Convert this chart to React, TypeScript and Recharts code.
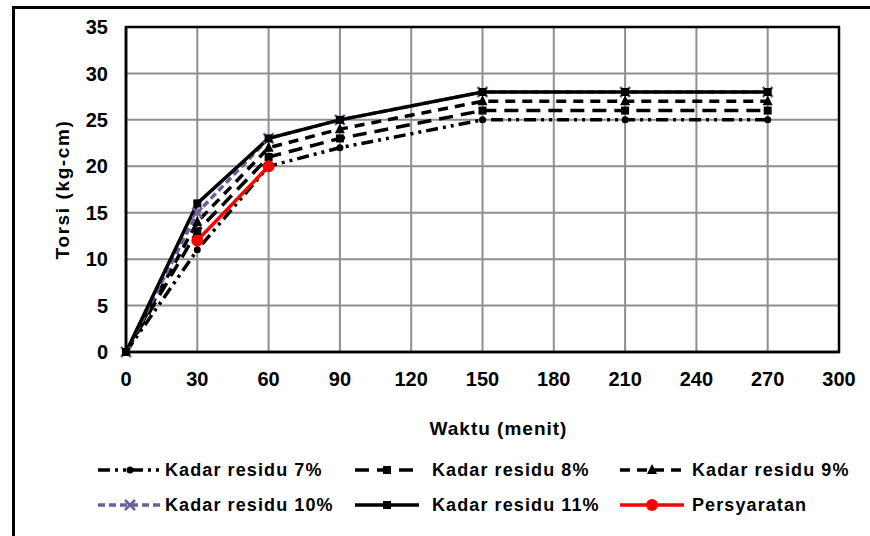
import React from 'react';
import {
  LineChart,
  Line,
  XAxis,
  YAxis,
  CartesianGrid,
  Legend,
  Label,
  ReferenceArea,
} from 'recharts';

// waktu (menit)
const time = [0, 30, 60, 90, 150, 210, 270];
// torsi (kg-cm) per kadar residu
const k7 = [0, 11, 20, 22, 25, 25, 25];
const k8 = [0, 13, 21, 23, 26, 26, 26];
const k9 = [0, 14, 22, 24, 27, 27, 27];
const k10 = [0, 15, 23, 25, 28, 28, 28];
const k11 = [0, 16, 23, 25, 28, 28, 28];
const syarat = [null, 12, 20, null, null, null, null];

const xTicks = [0, 30, 60, 90, 120, 150, 180, 210, 240, 270, 300];
const yTicks = [0, 5, 10, 15, 20, 25, 30, 35];

const names = [
  'Kadar residu 7%',
  'Kadar residu 8%',
  'Kadar residu 9%',
  'Kadar residu 10%',
  'Kadar residu 11%',
  'Persyaratan',
];

const rows = time.map((t, i) => ({
  t,
  k7: k7[i],
  k8: k8[i],
  k9: k9[i],
  k10: k10[i],
  k11: k11[i],
  syarat: syarat[i],
}));

const FONT = '"Liberation Sans", Arial, sans-serif';
const PURPLE = '#6e5e99';

type Shape = 'circle' | 'square' | 'triangle' | 'cross' | 'bigcircle';

const series = [
  { key: 'k7', color: '#000', dash: '12 5 3 5 3 5', shape: 'circle' as Shape },
  { key: 'k8', color: '#000', dash: '14 8', shape: 'square' as Shape },
  { key: 'k9', color: '#000', dash: '10 7', shape: 'triangle' as Shape },
  { key: 'k10', color: PURPLE, dash: '7 4', shape: 'cross' as Shape },
  { key: 'k11', color: '#000', dash: undefined, shape: 'square' as Shape },
  { key: 'syarat', color: '#ff0000', dash: undefined, shape: 'bigcircle' as Shape },
];

function marker(shape: Shape, color: string, cx: number, cy: number) {
  switch (shape) {
    case 'circle':
      return <circle cx={cx} cy={cy} r={3.5} fill={color} />;
    case 'square':
      return <rect x={cx - 4} y={cy - 4} width={8} height={8} fill={color} />;
    case 'triangle':
      return (
        <polygon
          points={`${cx},${cy - 6} ${cx + 5},${cy + 4} ${cx - 5},${cy + 4}`}
          fill={color}
        />
      );
    case 'cross':
      return (
        <g stroke={color} strokeWidth={2.5}>
          <line x1={cx - 5} y1={cy - 5} x2={cx + 5} y2={cy + 5} />
          <line x1={cx - 5} y1={cy + 5} x2={cx + 5} y2={cy - 5} />
        </g>
      );
    default:
      return <circle cx={cx} cy={cy} r={6} fill={color} />;
  }
}

const makeDot = (shape: Shape, color: string) => (props: any) => {
  const { cx, cy, value, index } = props;
  if (cx == null || cy == null || value == null) return <g key={index} />;
  return <g key={index}>{marker(shape, color, cx, cy)}</g>;
};

const legendCols = [98, 355, 620];
const legendText = [165, 432, 692];
const legendRows = [4, 39];

function LegendBox() {
  return (
    <div style={{ position: 'relative', width: 839, height: 60, fontFamily: FONT }}>
      {series.map((s, i) => {
        const col = i % 3;
        const row = Math.floor(i / 3);
        return (
          <div key={s.key}>
            <svg
              width={64}
              height={20}
              style={{ position: 'absolute', left: legendCols[col], top: legendRows[row] }}
            >
              <line
                x1={0}
                y1={10}
                x2={64}
                y2={10}
                stroke={s.color}
                strokeWidth={3.5}
                strokeDasharray={s.dash}
              />
              {marker(s.shape, s.color, 32, 10)}
            </svg>
            <span
              style={{
                position: 'absolute',
                left: legendText[col],
                top: legendRows[row] - 1,
                fontSize: 18,
                fontWeight: 'bold',
                letterSpacing: 1.1,
                lineHeight: '22px',
                whiteSpace: 'nowrap',
                color: '#000',
              }}
            >
              {names[i]}
            </span>
          </div>
        );
      })}
    </div>
  );
}

export default function App() {
  return (
    <div
      style={{
        position: 'absolute',
        left: 0,
        top: 0,
        width: 870,
        height: 536,
        background: '#fff',
        overflow: 'hidden',
      }}
    >
      <div
        style={{
          position: 'absolute',
          left: 12,
          top: 6,
          right: -10,
          bottom: -10,
          borderTop: '3px solid #000',
          borderLeft: '3px solid #000',
        }}
      />
      <LineChart
        width={870}
        height={536}
        data={rows}
        margin={{ top: 27, right: 31, left: 0, bottom: 20 }}
        style={{ fontFamily: FONT }}
      >
        <CartesianGrid stroke="#8f8f8f" strokeWidth={2} />
        <ReferenceArea
          x1={0}
          x2={300}
          y1={0}
          y2={35}
          fill="none"
          stroke="#000"
          strokeWidth={2.5}
          ifOverflow="visible"
        />
        <XAxis
          dataKey="t"
          type="number"
          domain={[0, 300]}
          ticks={xTicks}
          interval={0}
          height={104}
          axisLine={{ stroke: '#000', strokeWidth: 2.5 }}
          tickLine={false}
          tickSize={0}
          tickMargin={20}
          tick={{ fill: '#000', fontSize: 20, fontWeight: 'bold' }}
        >
          <Label
            value="Waktu (menit)"
            position="insideBottom"
            offset={21}
            dx={16}
            style={{ fill: '#000', fontSize: 19, fontWeight: 'bold', letterSpacing: 1 }}
          />
        </XAxis>
        <YAxis
          type="number"
          domain={[0, 35]}
          ticks={yTicks}
          interval={0}
          width={126}
          axisLine={{ stroke: '#000', strokeWidth: 2.5 }}
          tickLine={false}
          tickSize={0}
          tickMargin={18}
          tick={{ fill: '#000', fontSize: 20, fontWeight: 'bold' }}
        >
          <Label
            value="Torsi (kg-cm)"
            angle={-90}
            position="center"
            dx={-1}
            style={{ fill: '#000', fontSize: 19, fontWeight: 'bold', letterSpacing: 1.6, textAnchor: 'middle' }}
          />
        </YAxis>
        <Legend verticalAlign="bottom" content={() => <LegendBox />} />
        {series.map((s, i) => (
          <Line
            key={s.key}
            dataKey={s.key}
            name={names[i]}
            stroke={s.color}
            strokeWidth={3.5}
            strokeDasharray={s.dash}
            dot={makeDot(s.shape, s.color)}
            activeDot={false}
            connectNulls={false}
            isAnimationActive={false}
          />
        ))}
      </LineChart>
    </div>
  );
}
